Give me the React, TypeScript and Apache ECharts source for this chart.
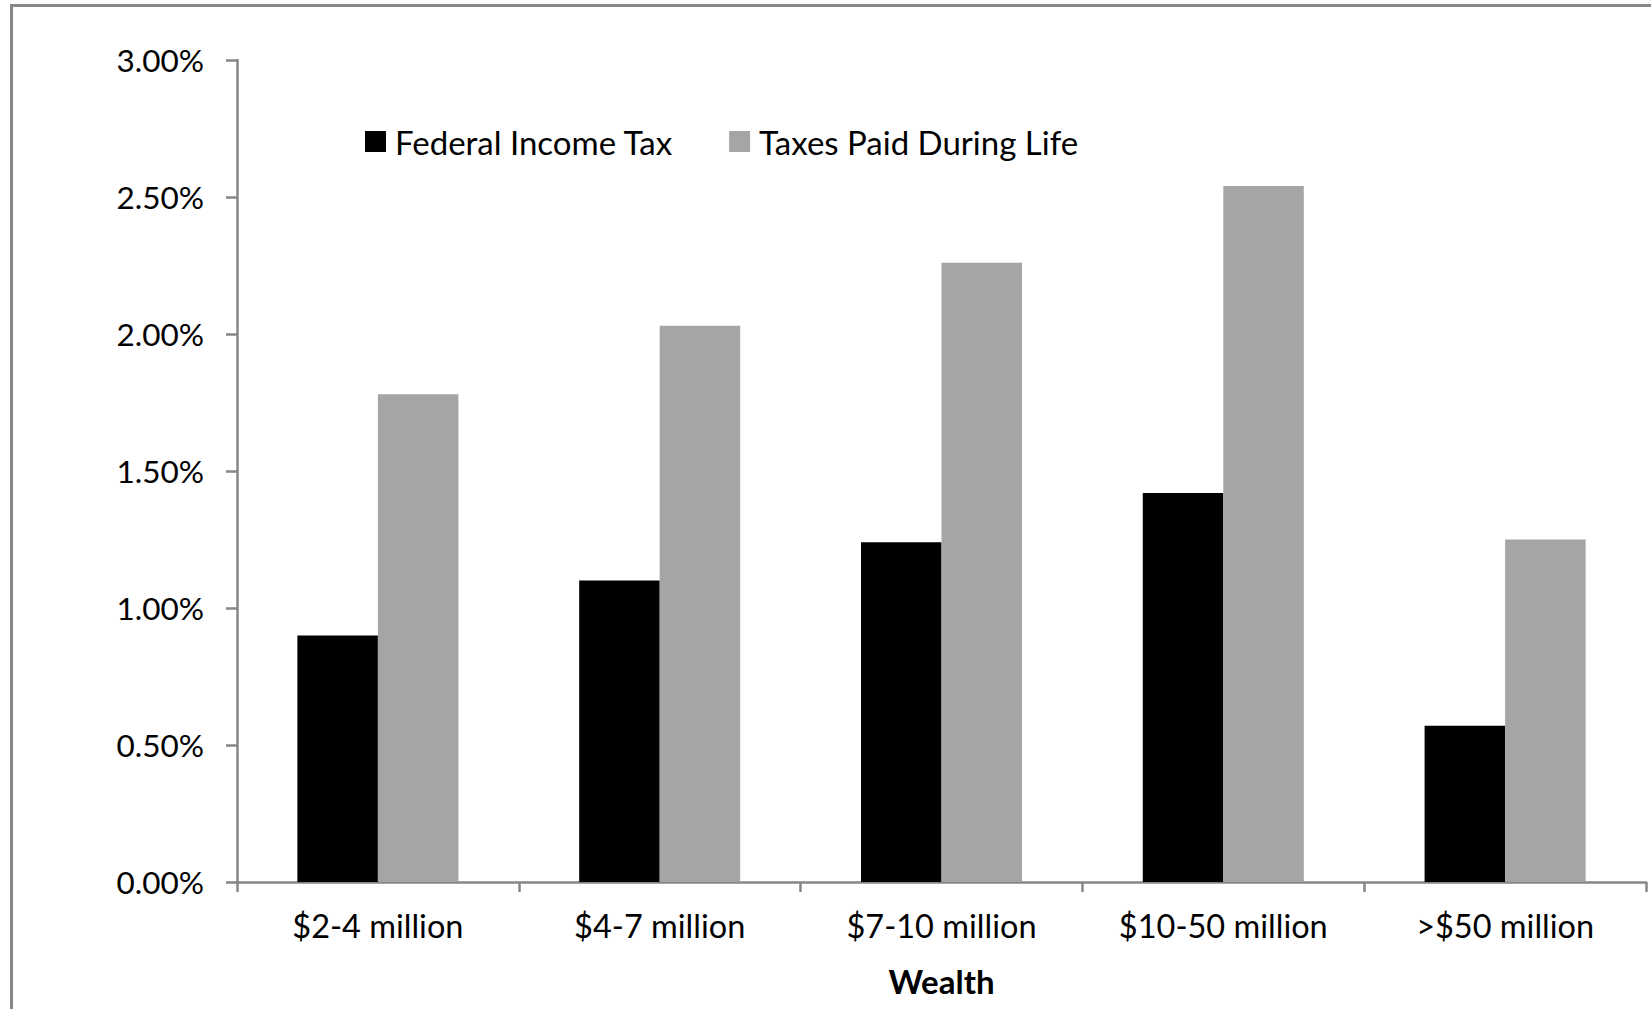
import React, { useEffect, useRef } from "react";
import * as echarts from "echarts";

const categories = ["$2-4 million", "$4-7 million", "$7-10 million", "$10-50 million", ">$50 million"];
const federalIncomeTax = [0.9, 1.1, 1.24, 1.42, 0.57];
const taxesPaidDuringLife = [1.78, 2.03, 2.26, 2.54, 1.25];
const seriesNames = ["Federal Income Tax", "Taxes Paid During Life"];
const axisTitle = "Wealth";

const FONT = "Lato";

export default function App() {
  const ref = useRef<HTMLDivElement>(null);
  useEffect(() => {
    document.body.style.margin = "0";
    if (!ref.current) return;
    const chart = echarts.init(ref.current, undefined, { renderer: "svg" });
    const axisColor = "#868686";
    chart.setOption({
      animation: false,
      backgroundColor: "#ffffff",
      textStyle: { fontFamily: FONT },
      graphic: [
        {
          type: "rect",
          shape: { x: 11.5, y: 5.5, width: 2000, height: 2000 },
          style: { fill: "none", stroke: "#888888", lineWidth: 3 },
          silent: true,
        },
      ],
      legend: {
        left: 365,
        top: 125,
        padding: 0,
        itemWidth: 21,
        itemHeight: 21,
        itemGap: 56,
        icon: "rect",
        textStyle: { fontFamily: FONT, fontSize: 33, color: "#000", padding: [0, 0, 0, 4] },
        data: seriesNames,
      },
      grid: { left: 237, right: 5, top: 60, bottom: 127, containLabel: false },
      xAxis: {
        type: "category",
        data: categories,
        name: axisTitle,
        nameLocation: "middle",
        nameGap: 82,
        nameTextStyle: { fontFamily: FONT, fontSize: 33, fontWeight: "bold", color: "#000" },
        axisLine: { show: true, lineStyle: { color: axisColor, width: 2.5 } },
        axisTick: { show: true, length: 10, alignWithLabel: false, lineStyle: { color: axisColor, width: 2.5 } },
        axisLabel: { fontFamily: FONT, fontSize: 32.5, color: "#000", margin: 27 },
        splitLine: { show: false },
      },
      yAxis: {
        type: "value",
        min: 0,
        max: 3,
        interval: 0.5,
        axisLine: { show: true, lineStyle: { color: axisColor, width: 2.5 } },
        axisTick: { show: true, length: 11, lineStyle: { color: axisColor, width: 2.5 } },
        axisLabel: {
          fontFamily: FONT,
          fontSize: 31.5,
          color: "#000",
          margin: 33,
          formatter: (v: number) => v.toFixed(2) + "%",
        },
        splitLine: { show: false },
      },
      series: [
        {
          name: seriesNames[0],
          type: "bar",
          data: federalIncomeTax,
          itemStyle: { color: "#000000" },
          barGap: "0%",
          barCategoryGap: "42.86%",
        },
        {
          name: seriesNames[1],
          type: "bar",
          data: taxesPaidDuringLife,
          itemStyle: { color: "#a5a5a5" },
          barGap: "0%",
          barCategoryGap: "42.86%",
        },
      ],
    });
    return () => chart.dispose();
  }, []);
  return <div ref={ref} style={{ width: 1651, height: 1009 }} />;
}
